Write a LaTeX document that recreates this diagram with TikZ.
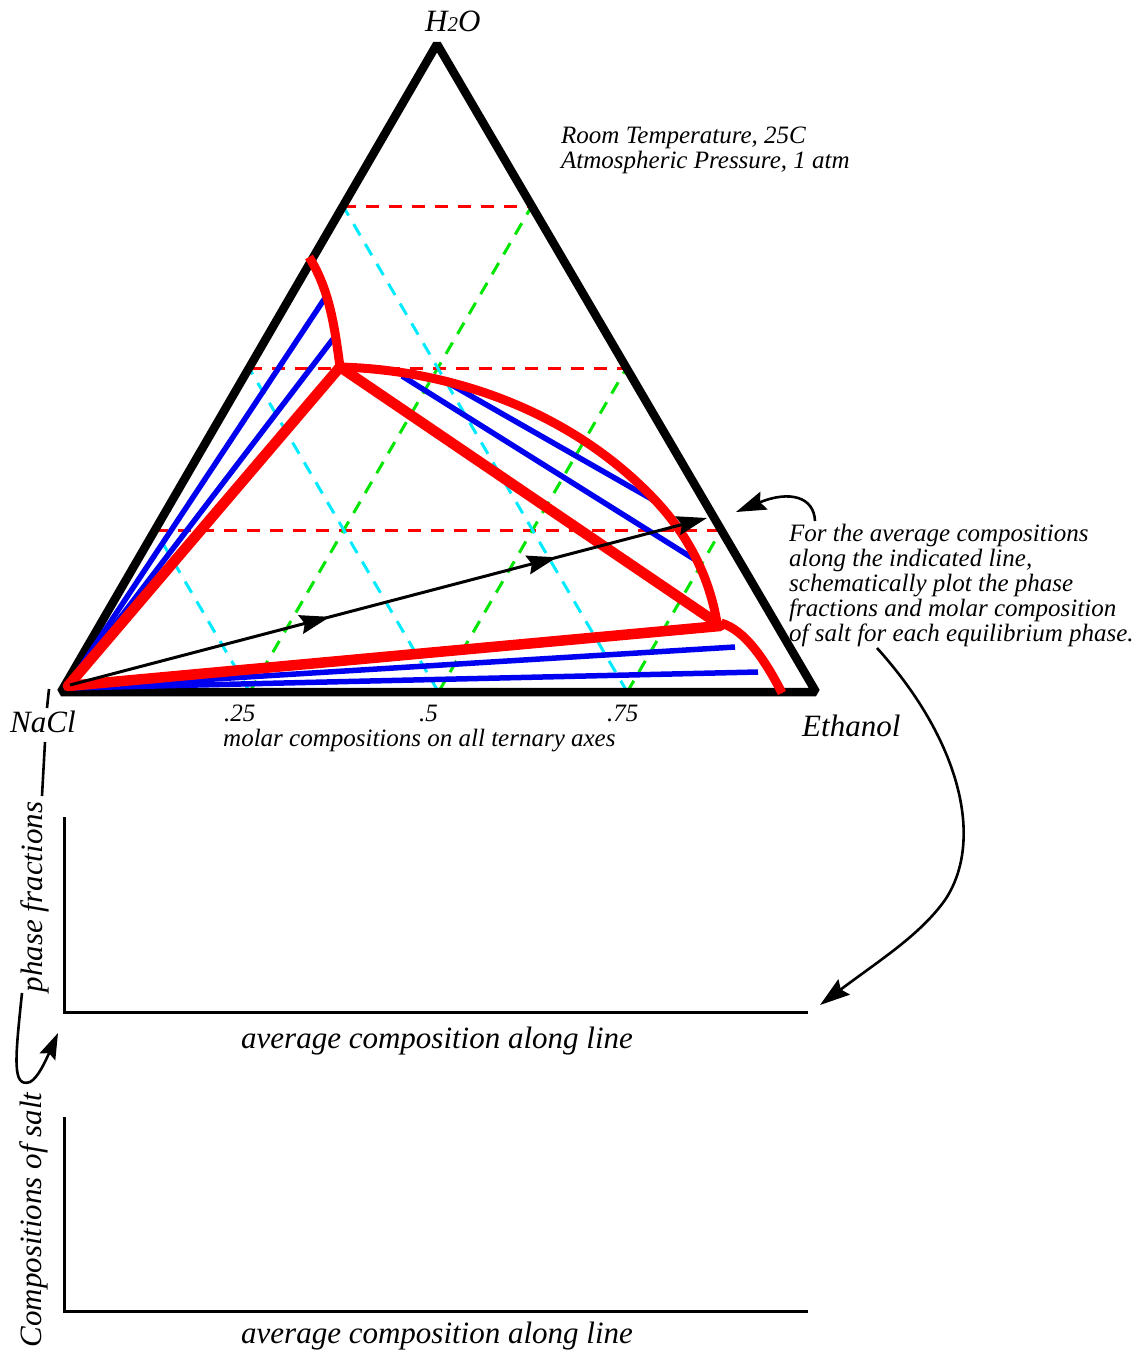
\documentclass[tikz,border=0pt]{standalone}
\usepackage{fontspec}
\setmainfont{Liberation Serif}
\usetikzlibrary{arrows.meta,calc}
\definecolor{gridred}{RGB}{255,0,0}
\definecolor{gridcyan}{RGB}{0,235,255}
\definecolor{gridgreen}{RGB}{0,230,0}
\definecolor{phred}{RGB}{255,0,0}
\definecolor{tieblue}{RGB}{0,0,240}
\newcommand\fbig{\fontsize{31}{34}\selectfont}
\newcommand\fmid{\fontsize{25}{25}\selectfont}
\begin{document}
\begin{tikzpicture}[x=1pt,y=-1pt,
  edge/.style={line width=8.5pt,line join=bevel},
  gridline/.style={line width=3pt,dash pattern=on 13pt off 10pt},
  redcurve/.style={phred,line width=9pt},
  redstraight/.style={phred,line width=10.5pt,line cap=round},
  tie/.style={tieblue,line width=5.5pt},
  lbl/.style={inner sep=0pt,font=\itshape\fmid,anchor=base west},
  biglbl/.style={inner sep=0pt,font=\itshape\fbig},
  axisline/.style={line width=3pt},
  thin/.style={line width=2.6pt},
  bigtip/.style={-{Stealth[length=30pt,width=19pt,inset=4pt]}},
  midtip/.style={-{Stealth[length=26pt,width=17pt,inset=4pt]}}
]
\useasboundingbox (0,0) rectangle (1137,1351);

% triangle vertices
\coordinate (A) at (61,692);
\coordinate (B) at (816,692);
\coordinate (C) at (437,44);

% grid lines
\foreach \h/\k in {0.25/0.75,0.5/0.5,0.75/0.25}{
  \draw[gridline,gridred] (barycentric cs:A=\k,C=\h) -- (barycentric cs:B=\k,C=\h);
  \draw[gridline,gridcyan] (barycentric cs:A=\k,B=\h) -- (barycentric cs:A=\k,C=\h);
  \draw[gridline,gridgreen] (barycentric cs:A=\k,B=\h) -- (barycentric cs:B=\h,C=\k);
}

% triangle
\draw[edge] (A) -- (B) -- (C) -- cycle;

% phase diagram points
\coordinate (N) at (68,686);
\coordinate (N2) at (68,688);
\coordinate (L1) at (340,367);
\coordinate (L2) at (717,623);
\coordinate (L2b) at (720,626);
\coordinate (w1) at (325,298);
\coordinate (w2) at (333,339);
\coordinate (m1a) at (402,376);
\coordinate (m1b) at (694,559);
\coordinate (m2a) at (443,380);
\coordinate (m2b) at (655,501);
\coordinate (e1) at (735,647);
\coordinate (e2) at (758,672);
\coordinate (c1s) at (309,257);
\coordinate (c3s) at (721,623);
\coordinate (c3e) at (782,693);
\coordinate (c2m) at (655,500);

% tie lines
\draw[tie] (N) -- (w1);
\draw[tie] (N) -- (w2);
\draw[tie] (m1a) -- (m1b);
\draw[tie] (m2a) -- (m2b);
\draw[tie] (N2) -- (e1);
\draw[tie] (N2) -- (e2);

% phase boundaries
\draw[redcurve] (c1s) .. controls (330,290) and (335,330) .. (L1);
\draw[redcurve] (L1) .. controls (450,370) and (570,410) .. (c2m)
                     .. controls (690,537) and (710,580) .. (L2);
\draw[redcurve] (c3s) .. controls (745,630) and (765,660) .. (c3e);
\draw[redstraight] (N) -- (L1);
\draw[redstraight] (L1) -- (L2);
\draw[redstraight] (N) -- (L2b);

% composition line with arrows
\coordinate (a0) at (70,685);
\coordinate (a1) at (707,518);
\draw[line width=3pt,bigtip] (a0) -- (a1);
\draw[line width=3pt,bigtip] ($(a0)!0.37!(a1)$) -- ($(a0)!0.408!(a1)$);
\draw[line width=3pt,bigtip] ($(a0)!0.73!(a1)$) -- ($(a0)!0.7645!(a1)$);

% labels of triangle
\node[biglbl,anchor=base west] (h2o) at (425,32) {H{\fontsize{21}{21}\selectfont 2}O};
\node[biglbl,anchor=base west] (nacl) at (10,732) {NaCl};
\node[biglbl,anchor=base west] (etoh) at (802,736) {Ethanol};
\node[lbl] (t25) at (224,721) {.25};
\node[lbl] (t50) at (419,721) {.5};
\node[lbl] (t75) at (607,721) {.75};
\node[lbl] (molar) at (223,746) {molar compositions on all ternary axes};
\node[lbl] (room) at (561,144) {Room Temperature, 25C};
\node[lbl] (atm) at (561,169) {Atmospheric Pressure, 1 atm};

% note
\node[lbl] (n1) at (789,541) {For the average compositions};
\node[lbl] (n2) at (789,566) {along the indicated line,};
\node[lbl] (n3) at (789,591) {schematically plot the phase};
\node[lbl] (n4) at (789,616) {fractions and molar composition};
\node[lbl] (n5) at (789,641) {of salt for each equilibrium phase.};

% arrows from note
\coordinate (s0) at (815,521);
\coordinate (s1) at (736,512);
\draw[thin,bigtip] (s0) .. controls (814,497) and (790,490) .. (s1);
\coordinate (b0) at (877,648);
\coordinate (b1) at (820,1005);
\draw[thin,bigtip] (b0) .. controls (960,740) and (985,840) .. (945,900)
                        .. controls (920,935) and (880,960) .. (b1);

% plots
\coordinate (p1t) at (64,817);
\coordinate (p1o) at (64,1012);
\coordinate (p1r) at (808,1012);
\draw[axisline] (p1t) -- (p1o) -- (p1r);
\coordinate (p2t) at (64,1117);
\coordinate (p2o) at (64,1311);
\coordinate (p2r) at (808,1311);
\draw[axisline] (p2t) -- (p2o) -- (p2r);
\node[biglbl,anchor=base west] (x1) at (241,1048) {average composition along line};
\node[biglbl,anchor=base west] (x2) at (241,1343) {average composition along line};
\node[biglbl,rotate=90,anchor=base] (pf) at (42,897) {phase fractions};
\node[biglbl,rotate=90,anchor=base] (cs) at (41,1220) {Compositions of salt};

% left bracket
\coordinate (k0) at (49,689);
\coordinate (k1) at (47,708);
\coordinate (k2) at (45,742);
\coordinate (k3) at (42,796);
\draw[thin] (k0) -- (k1);
\draw[thin] (k2) -- (k3);
\coordinate (k4) at (22,993);
\coordinate (k5) at (58,1033);
\draw[thin,midtip] (k4) .. controls (15,1060) and (12,1088) .. (30,1082)
                        .. controls (38,1078) and (46,1060) .. (k5);
\end{tikzpicture}
\end{document}
